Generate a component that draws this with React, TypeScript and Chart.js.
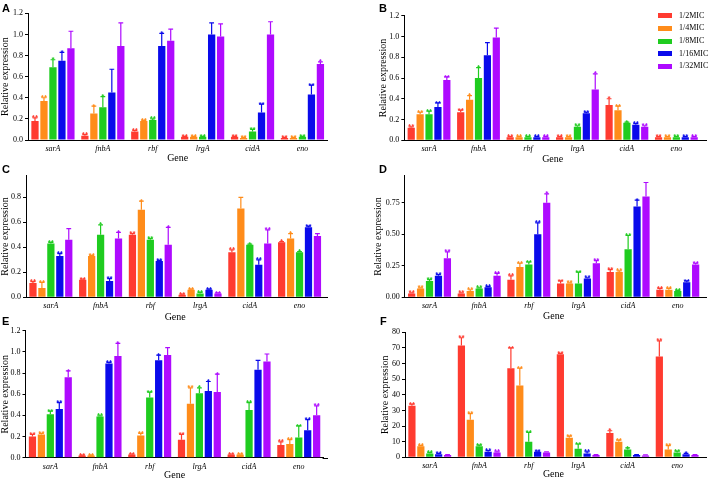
import React, { useEffect, useRef } from 'react';
import { Chart, registerables } from 'chart.js';

Chart.register(...registerables);

// ---------- data ----------
const genes = ['sarA', 'fnbA', 'rbf', 'lrgA', 'cidA', 'eno'];
const concentrations = ['1/2MIC', '1/4MIC', '1/8MIC', '1/16MIC', '1/32MIC'];

// rows = concentration (1/2, 1/4, 1/8, 1/16, 1/32), columns = genes
const meanA = [
  [0.18, 0.04, 0.08, 0.03, 0.03, 0.02],
  [0.37, 0.25, 0.18, 0.03, 0.02, 0.02],
  [0.69, 0.31, 0.19, 0.03, 0.08, 0.03],
  [0.75, 0.45, 0.89, 1.0, 0.26, 0.43],
  [0.87, 0.89, 0.94, 0.98, 1.0, 0.72],
];
const errA = [
  [0.03, 0.01, 0.01, 0.005, 0.005, 0.005],
  [0.03, 0.07, 0.005, 0.005, 0.005, 0.005],
  [0.07, 0.1, 0.01, 0.005, 0.02, 0.005],
  [0.08, 0.22, 0.12, 0.11, 0.08, 0.09],
  [0.16, 0.22, 0.11, 0.12, 0.12, 0.02],
];
const sigA = [
  ['**', '**', '**', '**', '**', '**'],
  ['**', '*', '**', '**', '**', '**'],
  ['*', '*', '**', '**', '**', '**'],
  ['*', '', '*', '', '**', '**'],
  ['', '', '', '', '', '*'],
];

const meanB = [
  [0.12, 0.27, 0.03, 0.03, 0.34, 0.03],
  [0.25, 0.39, 0.03, 0.03, 0.29, 0.03],
  [0.25, 0.6, 0.03, 0.13, 0.17, 0.03],
  [0.32, 0.82, 0.03, 0.26, 0.15, 0.03],
  [0.58, 0.99, 0.03, 0.49, 0.13, 0.03],
];
const errB = [
  [0.01, 0.02, 0.005, 0.005, 0.06, 0.005],
  [0.02, 0.04, 0.005, 0.005, 0.04, 0.005],
  [0.03, 0.1, 0.005, 0.01, 0.005, 0.005],
  [0.04, 0.12, 0.005, 0.01, 0.01, 0.005],
  [0.03, 0.09, 0.005, 0.15, 0.01, 0.005],
];
const sigB = [
  ['**', '**', '**', '**', '*', '**'],
  ['**', '*', '**', '**', '**', '**'],
  ['**', '*', '**', '**', '*', '**'],
  ['**', '', '**', '**', '**', '**'],
  ['**', '', '**', '*', '**', '**'],
];

const meanC = [
  [0.115, 0.14, 0.5, 0.02, 0.36, 0.44],
  [0.075, 0.33, 0.7, 0.06, 0.71, 0.47],
  [0.43, 0.5, 0.46, 0.03, 0.42, 0.36],
  [0.33, 0.13, 0.29, 0.06, 0.26, 0.56],
  [0.46, 0.47, 0.42, 0.03, 0.43, 0.49],
];
const errC = [
  [0.01, 0.005, 0.01, 0.005, 0.02, 0.005],
  [0.045, 0.005, 0.07, 0.005, 0.09, 0.04],
  [0.01, 0.08, 0.01, 0.01, 0.005, 0.005],
  [0.02, 0.02, 0.005, 0.005, 0.04, 0.01],
  [0.09, 0.05, 0.14, 0.005, 0.11, 0.02],
];
const sigC = [
  ['**', '**', '**', '**', '**', '*'],
  ['**', '**', '*', '**', '', '*'],
  ['**', '*', '**', '**', '*', '*'],
  ['**', '**', '**', '**', '**', '**'],
  ['', '*', '*', '**', '**', ''],
];

const meanD = [
  [0.03, 0.03, 0.14, 0.11, 0.2, 0.06],
  [0.07, 0.05, 0.24, 0.11, 0.2, 0.06],
  [0.13, 0.07, 0.26, 0.11, 0.38, 0.05],
  [0.17, 0.08, 0.5, 0.15, 0.72, 0.12],
  [0.31, 0.17, 0.75, 0.27, 0.8, 0.26],
];
const errD = [
  [0.005, 0.005, 0.03, 0.02, 0.02, 0.01],
  [0.005, 0.01, 0.03, 0.005, 0.01, 0.01],
  [0.01, 0.005, 0.02, 0.09, 0.11, 0.005],
  [0.01, 0.005, 0.09, 0.005, 0.05, 0.01],
  [0.05, 0.02, 0.07, 0.02, 0.11, 0.01],
];
const sigD = [
  ['**', '**', '**', '**', '**', '**'],
  ['**', '**', '**', '**', '**', '**'],
  ['**', '**', '**', '**', '**', '**'],
  ['**', '**', '**', '**', '*', '**'],
  ['**', '**', '*', '**', '', '**'],
];

const meanE = [
  [0.2, 0.02, 0.03, 0.17, 0.03, 0.12],
  [0.22, 0.02, 0.21, 0.51, 0.03, 0.13],
  [0.41, 0.39, 0.57, 0.61, 0.45, 0.19],
  [0.46, 0.89, 0.92, 0.63, 0.83, 0.26],
  [0.76, 0.96, 0.97, 0.62, 0.91, 0.4],
];
const errE = [
  [0.02, 0.005, 0.005, 0.05, 0.005, 0.03],
  [0.01, 0.005, 0.02, 0.15, 0.005, 0.04],
  [0.03, 0.005, 0.05, 0.05, 0.07, 0.11],
  [0.06, 0.01, 0.05, 0.09, 0.09, 0.1],
  [0.06, 0.12, 0.07, 0.17, 0.07, 0.09],
];
const sigE = [
  ['**', '**', '**', '**', '**', '**'],
  ['**', '**', '**', '**', '**', '**'],
  ['**', '**', '**', '*', '**', '**'],
  ['**', '**', '*', '*', '', '**'],
  ['*', '*', '', '*', '', '**'],
];

const meanF = [
  [33, 71.5, 57, 66, 15.5, 64.5],
  [7, 24, 46, 12.5, 10, 5],
  [2.5, 7, 10, 5.5, 5, 3],
  [2, 3.5, 3.5, 2.5, 1.5, 2],
  [1.5, 3, 3, 1.5, 1.2, 1.5],
];
const errF = [
  [1, 5, 13, 0.5, 1.5, 10],
  [0.5, 4, 11, 1, 1, 2.5],
  [0.5, 0.8, 6, 3, 1, 1],
  [0.5, 0.8, 0.5, 1, 0.3, 0.5],
  [0.3, 0.5, 0.5, 0.3, 0.3, 0.3],
];
const sigF = [
  ['**', '**', '**', '**', '*', '**'],
  ['**', '**', '**', '**', '**', '**'],
  ['**', '**', '**', '**', '*', '**'],
  ['**', '**', '**', '**', '', '*'],
  ['', '**', '', '', '', ''],
];

const yTicks12 = [0, 0.2, 0.4, 0.6, 0.8, 1.0, 1.2];
const yTicksC = [0, 0.2, 0.4, 0.6, 0.8];
const yTicksD = [0, 0.25, 0.5, 0.75];
const yTicksF = [0, 10, 20, 30, 40, 50, 60, 70, 80];

// ---------- styles / layout ----------
const seriesColors = ['#FF3B30', '#FF8C1A', '#1FCC1F', '#0A0AEB', '#AE0AFF'];
const SERIF = '"Liberation Serif", "Times New Roman", serif';
const SANS = '"Liberation Sans", Arial, sans-serif';

type PanelCfg = {
  key: string; x: number; y: number; w: number; h: number;
  L: number; R: number; T: number; B: number; axisEnd: number;
  max: number; ticks: number[]; dec: number; titleX: number; geneOff: number;
  means: number[][]; errs: number[][]; stars: string[][];
  letterX: number; letterY: number;
};

const panels: PanelCfg[] = [
  { key: 'A', x: 0, y: 0, w: 354, h: 164, L: 28, R: 327.4, T: 13.3, B: 140, axisEnd: 328, max: 1.2, ticks: yTicks12, dec: 1, titleX: 5, geneOff: 18, means: meanA, errs: errA, stars: sigA, letterX: 2, letterY: 4 },
  { key: 'B', x: 354, y: 0, w: 354, h: 165, L: 50.3, R: 347.1, T: 15.7, B: 140.3, axisEnd: 353, max: 1.2, ticks: yTicks12, dec: 1, titleX: 29, geneOff: 19, means: meanB, errs: errB, stars: sigB, letterX: 379, letterY: 4 },
  { key: 'C', x: 0, y: 155, w: 354, h: 167, L: 26, R: 324.4, T: 20.7, B: 142.3, axisEnd: 328, max: 0.973, ticks: yTicksC, dec: 1, titleX: 5.3, geneOff: 20, means: meanC, errs: errC, stars: sigC, letterX: 2, letterY: 165 },
  { key: 'D', x: 354, y: 155, w: 354, h: 167, L: 50.7, R: 348.6, T: 20.7, B: 142.3, axisEnd: 353, max: 0.964, ticks: yTicksD, dec: 2, titleX: 24.3, geneOff: 19, means: meanD, errs: errD, stars: sigD, letterX: 379, letterY: 165 },
  { key: 'E', x: 0, y: 315, w: 354, h: 167, L: 25.5, R: 323.6, T: 15.7, B: 142.7, axisEnd: 328, max: 1.2, ticks: yTicks12, dec: 1, titleX: 5, geneOff: 17.3, means: meanE, errs: errE, stars: sigE, letterX: 2, letterY: 317.5 },
  { key: 'F', x: 354, y: 315, w: 354, h: 167, L: 51, R: 347.9, T: 17.3, B: 142.3, axisEnd: 353, max: 80, ticks: yTicksF, dec: 0, titleX: 31, geneOff: 17, means: meanF, errs: errF, stars: sigF, letterX: 380, letterY: 317 },
];

const errorBarPlugin = {
  id: 'errorBars',
  afterDatasetsDraw(chart: any) {
    const ctx = chart.ctx;
    const ys = chart.scales.y;
    chart.data.datasets.forEach((ds: any, i: number) => {
      const meta = chart.getDatasetMeta(i);
      meta.data.forEach((bar: any, j: number) => {
        const v = ds.data[j];
        const e = ds.errors[j];
        const top = ys.getPixelForValue(v + e);
        const x = bar.x;
        ctx.save();
        ctx.strokeStyle = ds.backgroundColor;
        ctx.lineWidth = 1.2;
        ctx.beginPath();
        ctx.moveTo(x, bar.y);
        ctx.lineTo(x, top);
        ctx.moveTo(x - 2.4, top);
        ctx.lineTo(x + 2.4, top);
        ctx.stroke();
        const s = ds.stars[j];
        if (s) {
          ctx.fillStyle = ds.backgroundColor;
          ctx.font = `bold 8px ${SANS}`;
          ctx.textAlign = 'center';
          ctx.textBaseline = 'alphabetic';
          ctx.fillText(s, x, top + 2.6);
        }
        ctx.restore();
      });
    });
  },
};

const axisExtendPlugin = {
  id: 'axisExtend',
  afterDraw(chart: any) {
    const end = chart.options.plugins.axisExtend?.end;
    if (end == null) return;
    const ctx = chart.ctx;
    const { right, bottom } = chart.chartArea;
    ctx.save();
    ctx.strokeStyle = '#000';
    ctx.lineWidth = 1;
    ctx.beginPath();
    ctx.moveTo(right - 1, Math.round(bottom) + 0.5);
    ctx.lineTo(end, Math.round(bottom) + 0.5);
    ctx.stroke();
    ctx.restore();
  },
};

function Panel({ cfg }: { cfg: PanelCfg }) {
  const ref = useRef<HTMLCanvasElement | null>(null);
  useEffect(() => {
    if (!ref.current) return;
    const boxH = cfg.h - cfg.B;
    const chart = new Chart(ref.current, {
      type: 'bar',
      data: {
        labels: genes,
        datasets: concentrations.map((c, i) => ({
          label: c,
          data: cfg.means[i],
          backgroundColor: seriesColors[i],
          borderWidth: 0,
          categoryPercentage: 0.9,
          barPercentage: 0.81,
          errors: cfg.errs[i],
          stars: cfg.stars[i],
        })) as any,
      },
      options: {
        responsive: false,
        maintainAspectRatio: false,
        animation: false,
        events: [],
        layout: { padding: { left: 0, top: cfg.T, right: cfg.w - cfg.R, bottom: 0 } },
        plugins: {
          legend: { display: false },
          tooltip: { enabled: false },
          axisExtend: { end: cfg.axisEnd },
        } as any,
        scales: {
          x: {
            type: 'category',
            offset: true,
            grid: { display: false, drawTicks: false },
            border: { display: true, color: '#000', width: 1 },
            ticks: {
              color: '#000',
              font: { family: SERIF, style: 'italic', size: 8 },
              padding: 4,
              maxRotation: 0,
              autoSkip: false,
            },
            title: {
              display: true,
              text: 'Gene',
              color: '#000',
              font: { family: SERIF, size: 10, lineHeight: 1 },
              padding: { top: 0, bottom: boxH - cfg.geneOff - 5 },
            },
            afterFit: (s: any) => { s.height = boxH; },
          },
          y: {
            min: 0,
            max: cfg.max,
            grid: { display: true, drawOnChartArea: false, drawTicks: true, tickLength: 3, color: '#000' },
            border: { display: true, color: '#000', width: 1 },
            ticks: {
              color: '#000',
              font: { family: SERIF, size: 8 },
              padding: 2,
              callback: (v: any) => Number(v).toFixed(cfg.dec),
            },
            afterBuildTicks: (s: any) => { s.ticks = cfg.ticks.map((v) => ({ value: v })); },
            title: {
              display: true,
              text: 'Relative expression',
              color: '#000',
              font: { family: SERIF, size: 10, lineHeight: 1 },
              padding: { top: cfg.titleX - 5, bottom: 0 },
            },
            afterFit: (s: any) => { s.width = cfg.L; },
          },
        },
      } as any,
      plugins: [errorBarPlugin, axisExtendPlugin],
    });
    return () => chart.destroy();
  }, [cfg]);
  return (
    <canvas
      ref={ref}
      width={cfg.w}
      height={cfg.h}
      style={{ position: 'absolute', left: cfg.x, top: cfg.y, width: cfg.w, height: cfg.h }}
    />
  );
}

export default function App() {
  return (
    <div
      style={{
        position: 'fixed', left: 0, top: 0, width: 708, height: 479,
        overflow: 'hidden', background: '#fff',
      }}
    >
      {panels.map((p) => (
        <Panel key={p.key} cfg={p} />
      ))}
      {panels.map((p) => (
        <div
          key={'l' + p.key}
          style={{
            position: 'absolute', left: p.letterX, top: p.letterY - 1.4,
            font: `bold 11px ${SANS}`, lineHeight: '11px', color: '#000',
          }}
        >
          {p.key}
        </div>
      ))}
      {concentrations.map((c, i) => (
        <React.Fragment key={c}>
          <div
            style={{
              position: 'absolute', left: 658, top: 13.3 + i * 12.6,
              width: 14, height: 5, background: seriesColors[i],
            }}
          />
          <div
            style={{
              position: 'absolute', left: 679, top: 15.8 + i * 12.6 - 5,
              font: `8px ${SERIF}`, lineHeight: '10px', color: '#000', whiteSpace: 'nowrap',
            }}
          >
            {c}
          </div>
        </React.Fragment>
      ))}
    </div>
  );
}
